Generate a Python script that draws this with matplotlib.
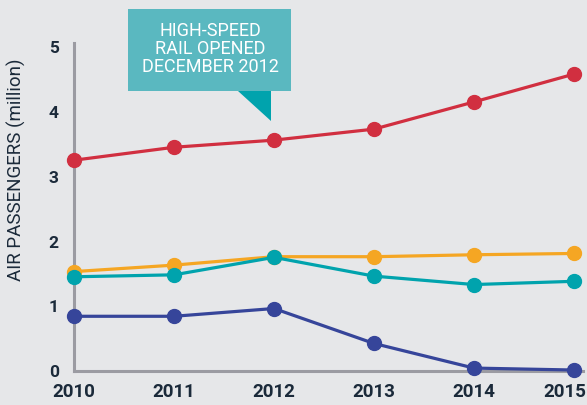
import matplotlib
matplotlib.use("Agg")
import matplotlib.pyplot as plt
import matplotlib.transforms as mtransforms
from matplotlib.patches import Rectangle, Polygon

years = [2010, 2011, 2012, 2013, 2014, 2015]
red_vals = [3.24, 3.44, 3.55, 3.72, 4.14, 4.57]
orange_vals = [1.52, 1.62, 1.75, 1.75, 1.78, 1.80]
teal_vals = [1.44, 1.47, 1.74, 1.45, 1.32, 1.37]
navy_vals = [0.83, 0.83, 0.95, 0.41, 0.03, 0.00]
yticks = [0, 1, 2, 3, 4, 5]
ylabel = "AIR PASSENGERS (million)"
callout = "HIGH-SPEED\nRAIL OPENED\nDECEMBER 2012"

FONT = ["Roboto", "DejaVu Sans"]
plt.rcParams["font.family"] = FONT

BG = "#E6E7E9"
TXT = "#1B2A3A"
W, H = 587, 406

fig = plt.figure(figsize=(W / 100, H / 100), dpi=100, facecolor=BG)

def fx(px):
    return px / W

def fy(py):
    return 1 - py / H

ax = fig.add_axes([fx(74), fy(372), fx(583) - fx(74), fy(44) - fy(372)])
ax.set_facecolor(BG)

series = [
    (orange_vals, "#F5A623"),
    (teal_vals, "#00A3AD"),
    (navy_vals, "#36459A"),
    (red_vals, "#D12F40"),
]
for vals, col in series:
    ax.plot(years, vals, color=col, lw=2.3, marker="o", ms=10, mec=col, mfc=col,
            clip_on=False, zorder=3)

ax.set_xlim(2010, 2015.09)
ax.set_ylim(-0.015, 5.05)
ax.set_yticks(yticks)
ax.set_xticks(years)
ax.set_xticklabels([str(y) for y in years], fontsize=13.5, fontweight="bold", color=TXT)
ax.set_yticklabels([str(t) for t in yticks], fontsize=12.5, fontweight="bold", color=TXT)
ax.tick_params(axis="y", length=0, pad=11)
ax.tick_params(axis="x", length=0, pad=8)
# last x label nudged left so it stays inside the figure
last = ax.get_xticklabels()[-1]
last.set_transform(last.get_transform() +
                   mtransforms.ScaledTranslation(-9 / 100, 0, fig.dpi_scale_trans))
for s in ["top", "right"]:
    ax.spines[s].set_visible(False)
for s in ["left", "bottom"]:
    ax.spines[s].set_color("#9B9BA2")
    ax.spines[s].set_linewidth(2.2)

fig.text(fx(16), fy(170), ylabel, rotation=90, ha="center", va="center",
         fontsize=13.5, color=TXT)

# callout
fig.patches.append(Rectangle((fx(128), fy(92)), fx(291) - fx(128), fy(10) - fy(92),
                             transform=fig.transFigure, facecolor="#5AB8C0",
                             edgecolor="none", zorder=5))
fig.patches.append(Polygon([(fx(238), fy(92)), (fx(271), fy(92)), (fx(271), fy(122))],
                           closed=True, transform=fig.transFigure,
                           facecolor="#00A3AD", edgecolor="none", zorder=5))
fig.text(fx(210), fy(49), callout, ha="center", va="center", color="white",
         fontsize=13, linespacing=0.98, zorder=6)

fig.savefig("out.png", dpi=100, facecolor=BG)
